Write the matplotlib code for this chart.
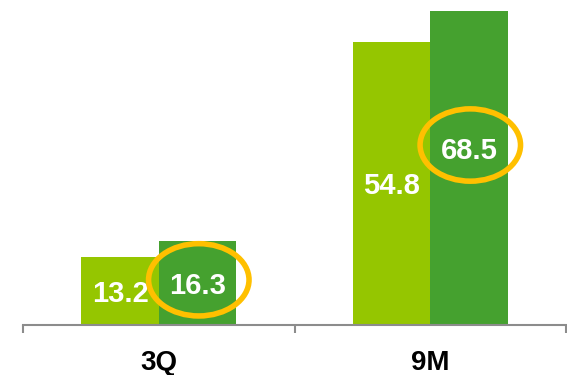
import matplotlib.pyplot as plt
from matplotlib.patches import Ellipse

plt.rcParams['font.family'] = ['Liberation Sans', 'DejaVu Sans']

# данные
categories = ["3Q", "9M"]
prev_values = [13.2, 54.8]
curr_values = [16.3, 68.5]

light_green = "#95C600"
dark_green = "#45A12F"
ring_color = "#FFC000"

fig = plt.figure(figsize=(5.67, 3.75), dpi=100)
ax = fig.add_axes([23 / 567, 50 / 375, 543 / 567, 314 / 375])

x = list(range(len(categories)))
w = 0.285
ax.bar([i - w / 2 for i in x], prev_values, w, color=light_green)
ax.bar([i + w / 2 for i in x], curr_values, w, color=dark_green)

ax.set_xlim(-0.5, 1.5)
ax.set_ylim(0, 60.8)

# подписи значений
for i, (p, c) in enumerate(zip(prev_values, curr_values)):
    ax.text(i - w / 2, p / 2, f"{p:.1f}", color="white", fontsize=21,
            fontweight="bold", ha="center", va="center_baseline")
    ax.text(i + w / 2, c / 2, f"{c:.1f}", color="white", fontsize=21,
            fontweight="bold", ha="center", va="center_baseline")
    # кольцо вокруг текущего значения
    ax.add_patch(Ellipse((i + w / 2 + 0.005, c / 2 + 0.6), 0.37, 14.0,
                         fill=False, edgecolor=ring_color, linewidth=4,
                         clip_on=False, zorder=5))

# оси
for s in ["left", "right", "top"]:
    ax.spines[s].set_visible(False)
ax.spines["bottom"].set_color("#8C8C8C")
ax.spines["bottom"].set_linewidth(1.5)
ax.set_yticks([])
ax.set_xticks(x)
ax.set_xticklabels(categories, fontsize=20, fontweight="bold")
ax.set_xticks([-0.5, 0.5, 1.5], minor=True)
ax.tick_params(axis="x", which="major", length=0, pad=18)
ax.tick_params(axis="x", which="minor", length=6, width=1.5, color="#8C8C8C")

fig.savefig("out.png", dpi=100)
